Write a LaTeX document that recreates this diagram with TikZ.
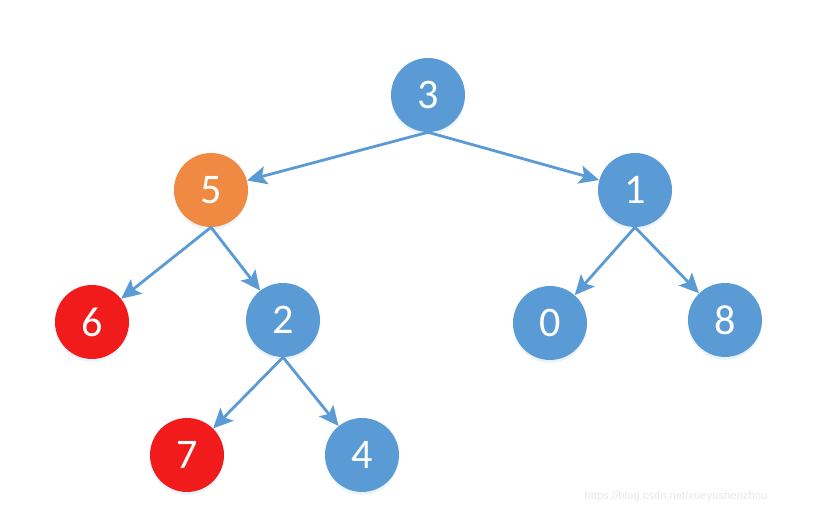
\documentclass[tikz,border=0pt]{standalone}
\usepackage{fontspec}
\setmainfont{Carlito}
\setsansfont{Liberation Sans}
\usepackage{tikz}
\usetikzlibrary{arrows.meta}
\usetikzlibrary{positioning}
\usetikzlibrary{shadows}
\definecolor{treeblue}{HTML}{5B9BD5}
\definecolor{treeorange}{HTML}{F08A42}
\definecolor{treered}{HTML}{F21B1B}
\tikzstyle{tnode} = [circle, minimum size=1.85cm, inner sep=0pt, fill=treeblue,
    text=white, font=\fontsize{30}{36}\selectfont,
    drop shadow={opacity=0.12, shadow xshift=0pt, shadow yshift=-2pt, fill=treeblue}]
\tikzstyle{hit} = [fill=treeorange]
\tikzstyle{leaf} = [fill=treered]
\tikzstyle{line} = [draw=treeblue, line width=2pt, -{Stealth[length=14pt, width=13pt, inset=3pt]}]

\begin{document}
\begin{tikzpicture}
  \useasboundingbox (0,0) rectangle (21,13);
  % Place nodes
  \node [tnode] (n3) at (10.7,10.625) {3};
  \node [tnode, hit, below of=n3, node distance=2.375cm, xshift=-5.425cm] (n5) {5};
  \node [tnode, below of=n3, node distance=2.375cm, xshift=5.175cm] (n1) {1};

  \node [tnode, leaf, below of=n5, node distance=3.3cm, xshift=-2.975cm] (n6) {6};
  \node [tnode, below of=n5, node distance=3.25cm, xshift=1.8cm] (n2) {2};
  \node [tnode, below of=n1, node distance=3.325cm, xshift=-2.125cm] (n0) {0};
  \node [tnode, below of=n1, node distance=3.25cm, xshift=2.25cm] (n8) {8};

  \node [tnode, leaf, below of=n2, node distance=3.375cm, xshift=-2.4cm] (n7) {7};
  \node [tnode, below of=n2, node distance=3.375cm, xshift=1.975cm] (n4) {4};

  % Draw edges
  \path [line] (n3.south) -- (n5);
  \path [line] (n3.south) -- (n1);
  \path [line] (n5.south) -- (n6);
  \path [line] (n5.south) -- (n2);
  \path [line] (n1.south) -- (n0);
  \path [line] (n1.south) -- (n8);
  \path [line] (n2.south) -- (n7);
  \path [line] (n2.south) -- (n4);

  \node [text=black!9, font=\sffamily\fontsize{8}{10}\selectfont] (mark) at (16.9,0.575)
    {https://blog.csdn.net/xueyushenzhou};
\end{tikzpicture}
\end{document}
